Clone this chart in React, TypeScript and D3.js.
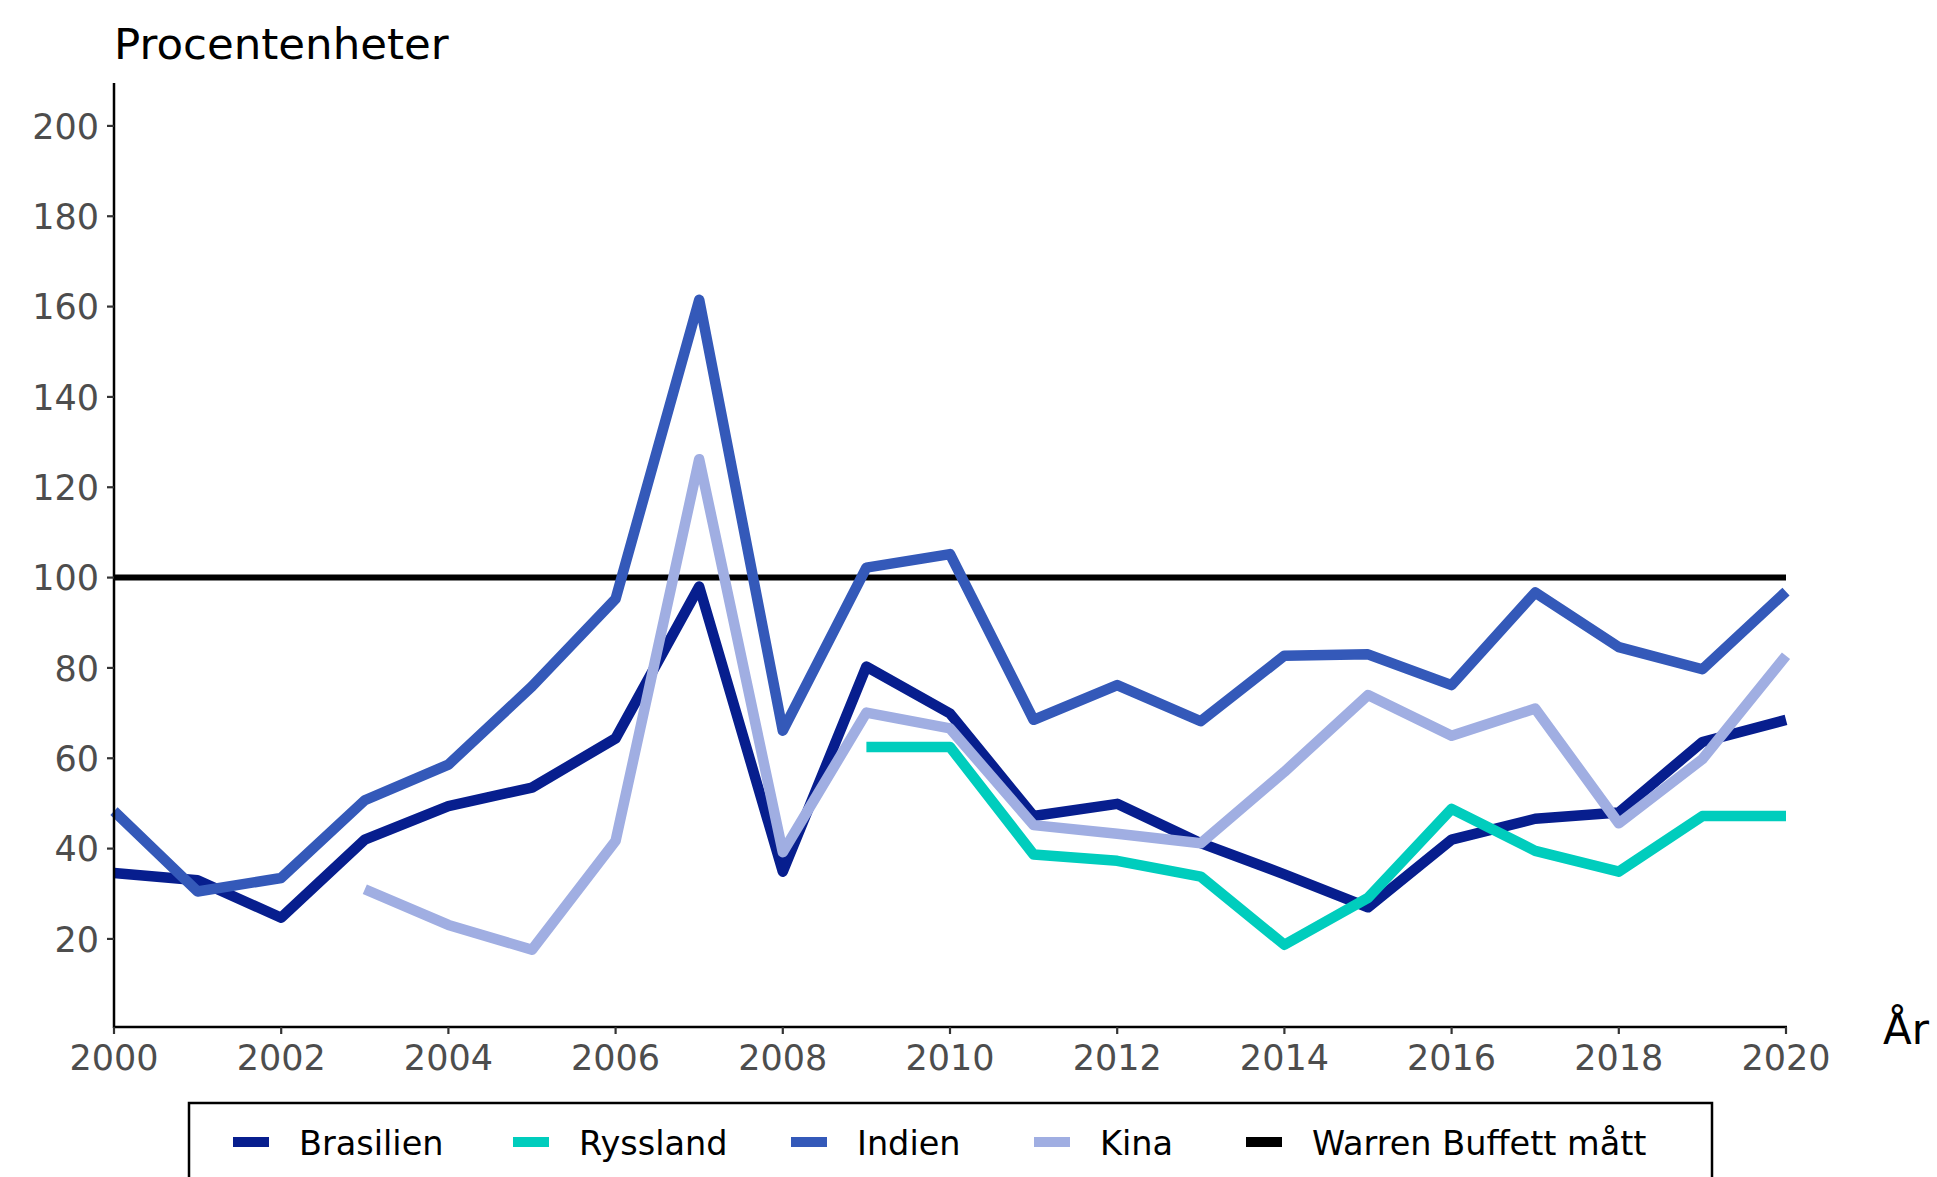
import React from "react";
import * as d3 from "d3";

const years = [2000, 2001, 2002, 2003, 2004, 2005, 2006, 2007, 2008, 2009, 2010, 2011, 2012, 2013, 2014, 2015, 2016, 2017, 2018, 2019, 2020];
const brasilien = [34.6, 33.0, 24.7, 42.0, 49.4, 53.5, 64.4, 98.0, 34.9, 80.3, 69.9, 47.2, 49.9, 41.2, 34.3, 27.0, 42.0, 46.6, 48.0, 63.6, 68.5];
const ryssland = [null, null, null, null, null, null, null, null, null, 62.5, 62.5, 38.7, 37.3, 33.8, 18.7, 29.1, 48.8, 39.5, 34.9, 47.2, 47.2];
const indien = [48.3, 30.5, 33.5, 50.7, 58.6, 75.9, 95.3, 161.5, 66.1, 102.2, 105.2, 68.5, 76.2, 68.2, 82.7, 83.0, 76.2, 96.7, 84.6, 79.7, 96.9];
const kina = [null, null, null, 31.0, 23.1, 17.6, 41.7, 126.2, 39.2, 70.1, 66.6, 45.2, 43.3, 41.2, 57.0, 74.0, 65.0, 71.0, 45.6, 59.8, 82.7];
const buffett = [100, 100, 100, 100, 100, 100, 100, 100, 100, 100, 100, 100, 100, 100, 100, 100, 100, 100, 100, 100, 100];

const seriesNames = ["Brasilien", "Ryssland", "Indien", "Kina", "Warren Buffett mått"];
const seriesColors = ["#071E8E", "#00CDBD", "#3459B9", "#A0AEE2", "#000000"];
const yTicks = [20, 40, 60, 80, 100, 120, 140, 160, 180, 200];
const xTicks = [2000, 2002, 2004, 2006, 2008, 2010, 2012, 2014, 2016, 2018, 2020];

const FONT = "'DejaVu Sans', sans-serif";

export default function App() {
  const W = 1937, H = 1177;
  const left = 114, right = 1786, top = 83, bottom = 1027;
  const x = d3.scaleLinear().domain([2000, 2020]).range([left, right]);
  const y = d3.scaleLinear().domain([0.5, 209.5]).range([bottom, top]);

  const allSeries = [brasilien, ryssland, indien, kina];
  const line = d3
    .line<number | null>()
    .defined((d) => d !== null)
    .x((_, i) => x(years[i]))
    .y((d) => y(d as number));

  const legendSwatchX = [233, 513, 791, 1034, 1246];

  return (
    <svg width={W} height={H} style={{ position: "absolute", left: 0, top: 0, background: "#fff" }}>
      <path d={line(buffett) || ""} fill="none" stroke={seriesColors[4]} strokeWidth={6} />
      {allSeries.map((s, k) => (
        <path
          key={k}
          d={line(s) || ""}
          fill="none"
          stroke={seriesColors[k]}
          strokeWidth={10.5}
          strokeLinejoin="round"
          strokeLinecap="butt"
        />
      ))}
      <line x1={left} x2={left} y1={top} y2={bottom + 1} stroke="#000" strokeWidth={2.5} />
      <line x1={left - 1} x2={right + 1} y1={bottom} y2={bottom} stroke="#000" strokeWidth={2.5} />
      {yTicks.map((t) => (
        <g key={"y" + t}>
          <line x1={left - 7} x2={left} y1={y(t)} y2={y(t)} stroke="#333" strokeWidth={2.2} />
          <text x={left - 15} y={y(t)} dy="0.36em" textAnchor="end" fontFamily={FONT} fontSize={35} fill="#4D4D4D">
            {t}
          </text>
        </g>
      ))}
      {xTicks.map((t) => (
        <g key={"x" + t}>
          <line x1={x(t)} x2={x(t)} y1={bottom} y2={bottom + 7} stroke="#333" strokeWidth={2.2} />
          <text x={x(t)} y={bottom + 43} textAnchor="middle" fontFamily={FONT} fontSize={35} fill="#4D4D4D">
            {t}
          </text>
        </g>
      ))}
      <text x={114} y={59} fontFamily={FONT} fontSize={43.5} fill="#000">
        Procentenheter
      </text>
      <text x={1883} y={1044} fontFamily={FONT} fontSize={42} fill="#000">
        År
      </text>
      <rect x={189} y={1103} width={1523} height={120} fill="#fff" stroke="#000" strokeWidth={2.5} />
      {seriesNames.map((n, i) => (
        <g key={n}>
          <rect x={legendSwatchX[i]} y={1137} width={36} height={10} fill={seriesColors[i]} />
          <text x={legendSwatchX[i] + 66} y={1143} dy="0.36em" fontFamily={FONT} fontSize={33.5} fill="#000">
            {n}
          </text>
        </g>
      ))}
    </svg>
  );
}
